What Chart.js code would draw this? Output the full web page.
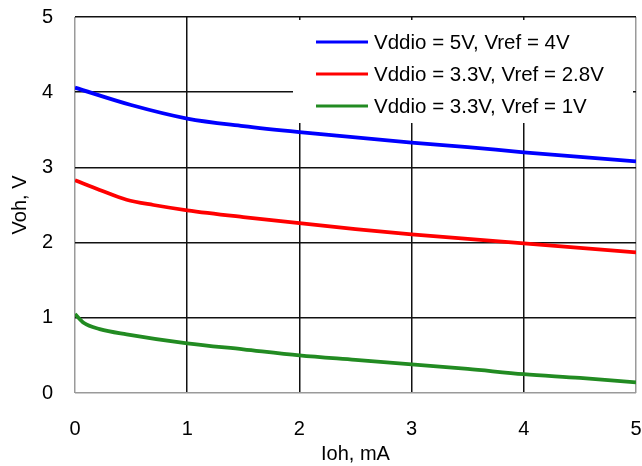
<!DOCTYPE html>
<html>
<head>
<meta charset="utf-8">
<script src="https://cdn.jsdelivr.net/npm/chart.js@4/dist/chart.umd.min.js"></script>
<style>
  html, body { margin: 0; padding: 0; background: #fff; }
  #caja { width: 642px; height: 466px; }
</style>
</head>
<body>
<div id="caja"><canvas id="grafico"></canvas></div>
<script>
// Datos (Ioh en mA, Voh en V)
var ioh_azul = [0, 0.5, 1, 1.5, 2, 2.5, 3, 3.5, 4, 4.5, 5];
var voh_azul = [4.06, 3.83, 3.65, 3.55, 3.47, 3.40, 3.33, 3.27, 3.20, 3.14, 3.08];

var ioh_rojo = [0, 0.22, 0.46, 0.7, 1, 1.5, 2, 2.5, 3, 3.5, 4, 4.5, 5];
var voh_rojo = [2.83, 2.70, 2.57, 2.50, 2.43, 2.34, 2.26, 2.18, 2.11, 2.05, 1.99, 1.93, 1.87];

var ioh_verde = [0, 0.08, 0.22, 0.46, 1, 1.5, 2, 2.5, 3, 3.5, 4, 4.5, 5];
var voh_verde = [1.05, 0.93, 0.85, 0.78, 0.66, 0.58, 0.50, 0.44, 0.38, 0.32, 0.25, 0.20, 0.14];

var etiquetas_series = ["Vddio = 5V, Vref = 4V", "Vddio = 3.3V, Vref = 2.8V", "Vddio = 3.3V, Vref = 1V"];
var colores_series = ["#0000ff", "#ff0000", "#228b22"];

var fuente = "Arial, 'Liberation Sans', sans-serif";

function puntos(xs, ys) {
    return xs.map(function (x, i) { return { x: x, y: ys[i] }; });
}

// Leyenda dibujada dentro del área del gráfico, con fondo blanco
var leyenda_interna = {
    id: 'leyenda_interna',
    afterDatasetsDraw: function (chart) {
        var ctx = chart.ctx;
        var area = chart.chartArea;
        var x0 = area.right - 343;
        var y0 = area.top + 3;
        ctx.save();
        ctx.fillStyle = '#fff';
        ctx.fillRect(x0, y0, 340, 103);
        ctx.font = "20.5px " + fuente;
        ctx.textBaseline = 'middle';
        chart.data.datasets.forEach(function (ds, i) {
            var y = area.top + 25 + i * 32;
            ctx.strokeStyle = ds.borderColor;
            ctx.lineWidth = 3;
            ctx.beginPath();
            ctx.moveTo(x0 + 23, y);
            ctx.lineTo(x0 + 75, y);
            ctx.stroke();
            ctx.fillStyle = '#000';
            ctx.fillText(ds.label, x0 + 81, y + 1);
        });
        ctx.restore();
    }
};

function color_rejilla(c) {
    var v = c.tick.value;
    return (v === 0 || (c.scale.axis === 'x' && v === 5)) ? '#9a9a9a' : '#111';
}

var contexto = document.getElementById('grafico').getContext('2d');
var mi_grafico = new Chart(contexto, {
    type: 'line',
    data: {
        datasets: [
            { label: etiquetas_series[0], data: puntos(ioh_azul, voh_azul), borderColor: colores_series[0] },
            { label: etiquetas_series[1], data: puntos(ioh_rojo, voh_rojo), borderColor: colores_series[1] },
            { label: etiquetas_series[2], data: puntos(ioh_verde, voh_verde), borderColor: colores_series[2] }
        ]
    },
    options: {
        responsive: true,
        maintainAspectRatio: false,
        animation: false,
        layout: { padding: { top: 17, right: 6, left: 0, bottom: 0 } },
        elements: {
            line: { borderWidth: 3.8, cubicInterpolationMode: 'monotone', fill: false },
            point: { radius: 0 }
        },
        plugins: {
            legend: { display: false },
            tooltip: { enabled: false }
        },
        scales: {
            x: {
                type: 'linear',
                min: 0, max: 5,
                afterFit: function (eje) { eje.height = 73; eje.paddingLeft = 0; eje.paddingRight = 0; },
                ticks: { stepSize: 1, padding: 24, color: '#000', font: { family: fuente, size: 20 } },
                grid: { color: color_rejilla, lineWidth: 1.5, drawTicks: false },
                border: { display: false },
                title: { display: true, text: 'Ioh, mA', color: '#000', font: { family: fuente, size: 20 }, padding: { top: 4, bottom: 0 } }
            },
            y: {
                min: 0, max: 5,
                afterFit: function (eje) { eje.width = 75; eje.paddingTop = 0; eje.paddingBottom = 0; },
                ticks: { stepSize: 1, padding: 22, color: '#000', font: { family: fuente, size: 20 } },
                grid: { color: color_rejilla, lineWidth: 1.5, drawTicks: false },
                border: { display: false },
                title: { display: true, text: 'Voh, V', color: '#000', font: { family: fuente, size: 20 }, padding: { top: 8, bottom: 2 } }
            }
        }
    },
    plugins: [leyenda_interna]
});
</script>
</body>
</html>
